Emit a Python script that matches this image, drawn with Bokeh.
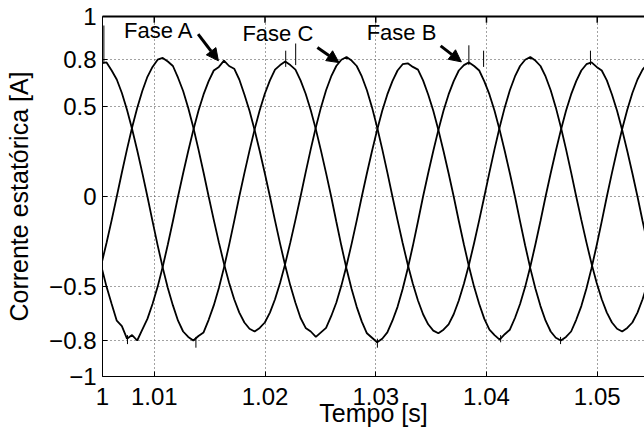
from bokeh.plotting import figure
from bokeh.models import FixedTicker, Arrow, NormalHead, Range1d, Label, LinearAxis
from bokeh.embed import file_html
from bokeh.resources import INLINE

# sampling clock of the traces (s)
t_start = 1.00477
t_step = 0.000461

fase_a = [-.267, -.39, -.502, -.597, -.69, -.72, -.79, -.77, -.80, -.74,
          -.68, -.597, -.502, -.39, -.267, -.136, 0, .129, .253, .37,
          .476, .567, .641, .70, .72, .755, .725, .71, .65, .567,
          .476, .37, .253, .129, 0, -.134, -.263, -.385, -.495, -.590,
          -.675, -.73, -.75, -.78, -.755, -.73, -.665, -.590, -.495, -.385,
          -.263, -.134, 0, .129, .253, .37, .476, .567, .641, .70,
          .735, .74, .72, .705, .645, .567, .476, .37, .253, .129,
          0, -.136, -.267, -.39, -.502, -.597, -.68, -.74, -.77, -.795,
          -.765, -.74, -.675, -.597, -.502, -.39, -.267, -.136, 0, .129,
          .253, .37, .476, .567, .641, .70, .735, .745, .72, .70,
          .645, .567, .476, .37, .253, .129, 0, -.136, -.267]

fase_b = [.745, .74, .745, .70, .650, .575, .482, .375, .257, .131,
          0, -.137, -.270, -.395, -.508, -.605, -.69, -.75, -.78, -.80,
          -.775, -.755, -.685, -.605, -.508, -.395, -.270, -.137, 0, .130,
          .255, .373, .479, .571, .645, .705, .73, .75, .73, .705,
          .645, .571, .479, .373, .255, .130, 0, -.139, -.274, -.40,
          -.514, -.613, -.695, -.76, -.785, -.81, -.79, -.755, -.69, -.613,
          -.514, -.40, -.274, -.139, 0, .129, .253, .37, .476, .567,
          .641, .70, .73, .745, .725, .70, .64, .567, .476, .37,
          .253, .129, 0, -.138, -.272, -.398, -.511, -.609, -.69, -.75,
          -.785, -.80, -.78, -.75, -.685, -.609, -.511, -.398, -.272, -.138,
          0, .131, .257, .375, .482, .575, .650, .705, .739]

fase_c = [-.482, -.375, -.257, -.131, 0, .133, .262, .383, .492, .586,
          .665, .72, .76, .77, .75, .725, .66, .586, .492, .383,
          .262, .133, 0, -.130, -.255, -.373, -.479, -.571, -.645, -.70,
          -.735, -.75, -.73, -.70, -.645, -.571, -.479, -.373, -.255, -.130,
          0, .134, .263, .385, .495, .590, .667, .725, .76, .775,
          .755, .725, .667, .590, .495, .385, .263, .134, 0, -.131,
          -.258, -.378, -.485, -.578, -.654, -.71, -.745, -.76, -.74, -.71,
          -.654, -.578, -.485, -.378, -.258, -.131, 0, .134, .263, .385,
          .495, .590, .667, .725, .76, .775, .755, .725, .667, .590,
          .495, .385, .263, .134, 0, -.130, -.255, -.373, -.479, -.571,
          -.645, -.70, -.735, -.75, -.73, -.70, -.645, -.571, -.479]

# isolated noise spikes
spike_t = [1.00545, 1.02277, 1.02187, 1.03841, 1.03974, 1.04939,
           1.01376, 1.00758, 1.03015, 1.04669, 1.04128]
spike_lo = [0.74, 0.73, 0.72, 0.73, 0.72, 0.73, -0.78, -0.77, -0.79, -0.78, -0.77]
spike_hi = [0.95, 0.85, 0.81, 0.84, 0.81, 0.81, -0.84, -0.82, -0.84, -0.82, -0.81]

x_ticks = [1.005325, 1.01, 1.02, 1.03, 1.04, 1.05]
x_tick_labels = ["1", "1.01", "1.02", "1.03", "1.04", "1.05"]
y_ticks = [-1, -0.8, -0.5, 0, 0.5, 0.76, 1]
y_tick_labels = ["\u22121", "\u22120.8", "\u22120.5", "0", "0.5", "0.8", "1"]

tempo = [t_start + k * t_step for k in range(len(fase_a))]

FONT = "Liberation Sans"

p = figure(width=644, height=436, output_backend="svg", toolbar_location=None,
           x_range=Range1d(1.005325, 1.05427), y_range=Range1d(-1, 1),
           min_border_left=102, min_border_right=0, min_border_top=16,
           min_border_bottom=60, background_fill_color="white",
           border_fill_color="white", outline_line_color=None)

p.xaxis.ticker = FixedTicker(ticks=x_ticks)
p.xaxis.major_label_overrides = {v: s for v, s in zip(x_ticks, x_tick_labels)}
p.yaxis.ticker = FixedTicker(ticks=y_ticks)
p.yaxis.major_label_overrides = {v: s for v, s in zip(y_ticks, y_tick_labels)}

for ax in (p.xaxis, p.yaxis):
    ax.major_tick_in = 5
    ax.major_tick_out = 0
    ax.minor_tick_line_color = None
    ax.axis_line_color = "black"
    ax.axis_line_width = 1
    ax.major_tick_line_color = "black"
    ax.major_label_text_font = FONT
    ax.major_label_text_font_size = "24px"
    ax.major_label_text_color = "black"
    ax.axis_label_text_font = FONT
    ax.axis_label_text_font_size = "25px"
    ax.axis_label_text_font_style = "normal"
    ax.axis_label_text_color = "black"

p.xaxis.axis_label = "Tempo [s]"
p.xaxis.major_label_standoff = 11
p.xaxis.axis_label_standoff = -9

p.yaxis.axis_label = "Corrente estatórica [A]"
p.yaxis.major_label_standoff = 6
p.yaxis.axis_label_standoff = 13

p.xgrid.grid_line_color = "#444444"
p.xgrid.grid_line_dash = "1 3"
p.ygrid.grid_line_color = "#444444"
p.ygrid.grid_line_dash = "1 3"

# top box line (an axis without ticks or labels) and inward ticks
top_axis = LinearAxis(ticker=FixedTicker(ticks=[]), axis_line_color="black",
                      axis_line_width=2, major_tick_line_color=None,
                      minor_tick_line_color=None, major_label_standoff=0)
p.add_layout(top_axis, "above")
p.segment(x0=x_ticks[1:], y0=[1] * 5, x1=x_ticks[1:], y1=[0.965] * 5,
          line_color="black", line_width=1.5)

for ys in (fase_a, fase_b, fase_c):
    p.line(tempo, ys, line_color="black", line_width=1.8)
p.segment(x0=spike_t, y0=spike_lo, x1=spike_t, y1=spike_hi,
          line_color="black", line_width=1)

for txt, tx, ty in (("Fase A", 1.00727, 0.925), ("Fase C", 1.01796, 0.906),
                    ("Fase B", 1.02918, 0.91)):
    p.add_layout(Label(x=tx, y=ty, text=txt, text_font=FONT,
                       text_font_size="22px", text_color="black",
                       text_baseline="alphabetic"))

for xs, ys, xe, ye in ((1.01396, 0.902, 1.01579, 0.754),
                       (1.02473, 0.828, 1.02668, 0.744),
                       (1.03586, 0.837, 1.03773, 0.748)):
    p.add_layout(Arrow(end=NormalHead(size=12, fill_color="black",
                                      line_color="black"),
                       x_start=xs, y_start=ys, x_end=xe, y_end=ye,
                       line_width=3, line_color="black"))

open("out.html", "w").write(file_html(p, INLINE))
